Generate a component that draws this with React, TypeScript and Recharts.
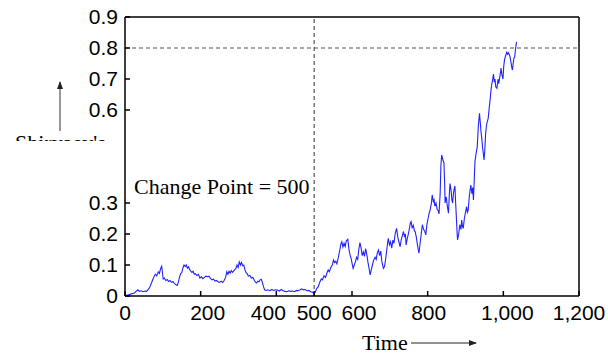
import { LineChart, Line, XAxis, YAxis, ReferenceLine } from "recharts";

// Shiryaev's statistic, [time, value]
const preChange: [number, number][] = [
    [0, 0], [5, 0.002], [10, 0.004], [15, 0.006], [20, 0.008], [25, 0.01], [30, 0.016], [34, 0.02],
    [38, 0.015], [43, 0.017], [48, 0.014], [53, 0.016], [57, 0.015], [62, 0.022], [66, 0.03], [70, 0.042],
    [74, 0.055], [78, 0.066], [81, 0.07], [84, 0.065], [88, 0.078], [91, 0.073], [94, 0.088], [97, 0.096],
    [99, 0.075], [101, 0.055], [104, 0.058], [108, 0.05], [112, 0.053], [115, 0.047], [119, 0.05], [123, 0.044],
    [127, 0.046], [131, 0.04], [135, 0.036], [138, 0.034], [141, 0.045], [144, 0.06], [147, 0.072], [150, 0.075],
    [153, 0.09], [156, 0.1], [159, 0.095], [162, 0.1], [165, 0.09], [168, 0.094], [171, 0.085], [174, 0.08],
    [177, 0.076], [180, 0.08], [183, 0.07], [186, 0.072], [190, 0.066], [194, 0.07], [198, 0.058], [202, 0.062],
    [206, 0.056], [210, 0.06], [214, 0.064], [218, 0.062], [222, 0.064], [226, 0.057], [230, 0.052], [234, 0.054],
    [238, 0.048], [242, 0.05], [246, 0.046], [250, 0.044], [254, 0.048], [258, 0.044], [262, 0.05], [266, 0.06],
    [269, 0.078], [272, 0.07], [275, 0.08], [278, 0.074], [281, 0.082], [284, 0.076], [287, 0.08], [290, 0.085],
    [293, 0.088], [296, 0.1], [299, 0.092], [302, 0.11], [305, 0.1], [308, 0.108], [311, 0.098], [314, 0.1],
    [317, 0.085], [320, 0.075], [323, 0.072], [326, 0.064], [330, 0.066], [334, 0.058], [338, 0.06], [342, 0.05],
    [345, 0.044], [348, 0.042], [351, 0.048], [354, 0.046], [357, 0.052], [360, 0.054], [363, 0.045], [366, 0.03],
    [369, 0.02], [373, 0.018], [378, 0.02], [383, 0.017], [388, 0.021], [393, 0.018], [398, 0.02], [403, 0.019],
    [408, 0.016], [413, 0.021], [418, 0.017], [423, 0.015], [428, 0.014], [433, 0.017], [438, 0.015], [443, 0.016],
    [448, 0.014], [453, 0.018], [458, 0.017], [463, 0.02], [467, 0.023], [471, 0.02], [476, 0.021], [481, 0.017],
    [486, 0.018], [491, 0.014], [496, 0.012], [500, 0.008],
];

const postChange: [number, number][] = [
    [503, 0.012], [507, 0.025], [511, 0.03], [515, 0.045], [519, 0.055], [522, 0.052], [526, 0.065], [530, 0.06],
    [534, 0.075], [537, 0.084], [540, 0.078], [544, 0.092], [548, 0.1], [551, 0.116], [554, 0.108], [557, 0.112],
    [560, 0.104], [564, 0.125], [568, 0.15], [571, 0.17], [573, 0.175], [576, 0.158], [579, 0.17], [582, 0.16],
    [585, 0.178], [589, 0.183], [592, 0.15], [595, 0.132], [598, 0.12], [601, 0.1], [603, 0.089], [606, 0.1],
    [609, 0.11], [612, 0.125], [615, 0.118], [618, 0.15], [621, 0.172], [624, 0.155], [627, 0.13], [630, 0.142],
    [633, 0.128], [636, 0.153], [639, 0.135], [642, 0.11], [645, 0.09], [648, 0.068], [651, 0.085], [654, 0.1],
    [657, 0.115], [661, 0.125], [664, 0.118], [667, 0.14], [670, 0.148], [673, 0.13], [676, 0.145], [679, 0.11],
    [683, 0.089], [686, 0.095], [689, 0.12], [692, 0.15], [694, 0.17], [696, 0.186], [699, 0.165], [702, 0.175],
    [705, 0.154], [708, 0.18], [711, 0.17], [714, 0.2], [716, 0.21], [718, 0.218], [721, 0.19], [724, 0.175],
    [727, 0.159], [730, 0.18], [733, 0.195], [736, 0.208], [739, 0.19], [741, 0.2], [743, 0.165], [746, 0.185],
    [749, 0.2], [752, 0.22], [754, 0.235], [756, 0.24], [759, 0.22], [762, 0.228], [765, 0.21], [767, 0.208],
    [770, 0.19], [773, 0.165], [775, 0.15], [777, 0.138], [780, 0.17], [783, 0.2], [786, 0.23], [789, 0.215],
    [792, 0.21], [795, 0.197], [798, 0.23], [801, 0.25], [804, 0.267], [807, 0.28], [810, 0.3], [812, 0.326],
    [815, 0.305], [817, 0.31], [819, 0.29], [822, 0.3], [825, 0.28], [828, 0.275], [830, 0.265], [833, 0.33],
    [835, 0.42], [837, 0.455], [840, 0.44], [843, 0.43], [845, 0.36], [846, 0.3], [849, 0.32], [852, 0.29],
    [855, 0.267], [857, 0.32], [859, 0.363], [862, 0.34], [864, 0.31], [866, 0.3], [868, 0.33], [870, 0.345],
    [872, 0.355], [874, 0.3], [876, 0.25], [878, 0.2], [879, 0.181], [882, 0.2], [885, 0.23], [888, 0.215],
    [890, 0.245], [892, 0.225], [894, 0.218], [897, 0.25], [900, 0.27], [903, 0.288], [905, 0.27], [907, 0.276],
    [910, 0.32], [912, 0.34], [914, 0.358], [917, 0.33], [919, 0.35], [921, 0.31], [923, 0.37], [925, 0.433],
    [928, 0.46], [931, 0.48], [934, 0.55], [937, 0.589], [939, 0.56], [941, 0.53], [943, 0.51], [945, 0.48],
    [947, 0.46], [949, 0.439], [951, 0.47], [953, 0.52], [955, 0.546], [957, 0.56], [960, 0.573], [963, 0.61],
    [965, 0.632], [967, 0.66], [969, 0.68], [972, 0.7], [974, 0.716], [976, 0.69], [978, 0.7], [980, 0.675],
    [983, 0.67], [986, 0.7], [988, 0.685], [991, 0.71], [993, 0.725], [994, 0.735], [996, 0.715], [999, 0.7],
    [1001, 0.74], [1003, 0.761], [1006, 0.775], [1009, 0.786], [1011, 0.78], [1013, 0.785], [1016, 0.778],
    [1018, 0.77], [1020, 0.755], [1022, 0.74], [1024, 0.729], [1026, 0.75], [1028, 0.768], [1030, 0.77],
    [1032, 0.795], [1035, 0.82],
];

const xTicks = [0, 200, 400, 500, 600, 800, 1000, 1200];
const yTicks = [0, 0.1, 0.2, 0.3, 0.6, 0.7, 0.8, 0.9];
const changePoint = 500;
const threshold = 0.8;

const data = [...preChange, ...postChange].map(([t, v]) => ({ t, v }));

const sans = "'Liberation Sans', Arial, sans-serif";
const serif = "'Liberation Serif', 'Times New Roman', serif";
const tickStyle = { fill: "#000", fontSize: 21, fontFamily: sans };

// the original figure nudges a few x labels off their ticks
const labelNudge: Record<number, number> = { 200: 7, 400: -8, 600: 7, 800: 1, 1000: 4 };

function XTick(props: any) {
    const { x, y, payload } = props;
    const dx = labelNudge[payload.value] || 0;
    return (
        <text
            x={x + dx}
            y={y}
            dy="0.71em"
            textAnchor="middle"
            fill="#000"
            fontSize={21}
            fontFamily={sans}
        >
            {Number(payload.value).toLocaleString("en-US")}
        </text>
    );
}

export default function App() {
    return (
        <div style={{ position: "absolute", left: 0, top: 0, width: 608, height: 354, background: "#fff" }}>
            <LineChart
                width={608}
                height={354}
                data={data}
                margin={{ top: 7, right: 19, bottom: 28, left: 85 }}
            >
                <XAxis
                    dataKey="t"
                    type="number"
                    domain={[0, 1200]}
                    ticks={xTicks}
                    interval={0}
                    tick={<XTick />}
                    tickSize={-5}
                    tickMargin={14}
                    height={30}
                    stroke="#000"
                    strokeWidth={1.5}
                />
                <XAxis
                    xAxisId="top"
                    orientation="top"
                    dataKey="t"
                    type="number"
                    domain={[0, 1200]}
                    ticks={xTicks}
                    interval={0}
                    tick={false}
                    tickSize={-5}
                    height={10}
                    stroke="#000"
                    strokeWidth={1.5}
                />
                <YAxis
                    type="number"
                    domain={[0, 0.9]}
                    ticks={yTicks}
                    interval={0}
                    tick={tickStyle}
                    tickSize={-5}
                    tickMargin={12}
                    width={40}
                    stroke="#000"
                    strokeWidth={1.5}
                />
                <YAxis
                    yAxisId="right"
                    orientation="right"
                    type="number"
                    domain={[0, 0.9]}
                    ticks={yTicks}
                    interval={0}
                    tick={false}
                    tickSize={-5}
                    width={10}
                    stroke="#000"
                    strokeWidth={1.5}
                />
                <ReferenceLine x={changePoint} stroke="#555" strokeDasharray="4 3" strokeWidth={1.2} />
                <ReferenceLine y={threshold} stroke="#555" strokeDasharray="4 3" strokeWidth={1.2} />
                <Line
                    dataKey="v"
                    stroke="#2222ff"
                    strokeWidth={1.1}
                    dot={false}
                    type="linear"
                    isAnimationActive={false}
                />
            </LineChart>
            <svg
                width={608}
                height={354}
                style={{ position: "absolute", left: 0, top: 0, pointerEvents: "none" }}
            >
                <defs>
                    <clipPath id="cutLabel">
                        <rect x={0} y={0} width={124} height={141} />
                    </clipPath>
                    <marker id="head" markerWidth={8} markerHeight={6} refX={7} refY={3} orient="auto">
                        <path d="M0,0 L8,3 L0,6 Z" fill="#222" />
                    </marker>
                </defs>
                <line x1={60} y1={131} x2={60} y2={82} stroke="#333" strokeWidth={1} markerEnd="url(#head)" />
                <text x={15} y={150} fontFamily={serif} fontSize={22} fill="#000" clipPath="url(#cutLabel)">
                    Shiryaev's
                </text>
                <text x={134} y={194} fontFamily={serif} fontSize={22} fill="#000">
                    Change Point = 500
                </text>
                <text x={362} y={350} fontFamily={serif} fontSize={22} fill="#000">
                    Time
                </text>
                <line x1={411} y1={343} x2={476} y2={343} stroke="#222" strokeWidth={1} markerEnd="url(#head)" />
            </svg>
        </div>
    );
}
